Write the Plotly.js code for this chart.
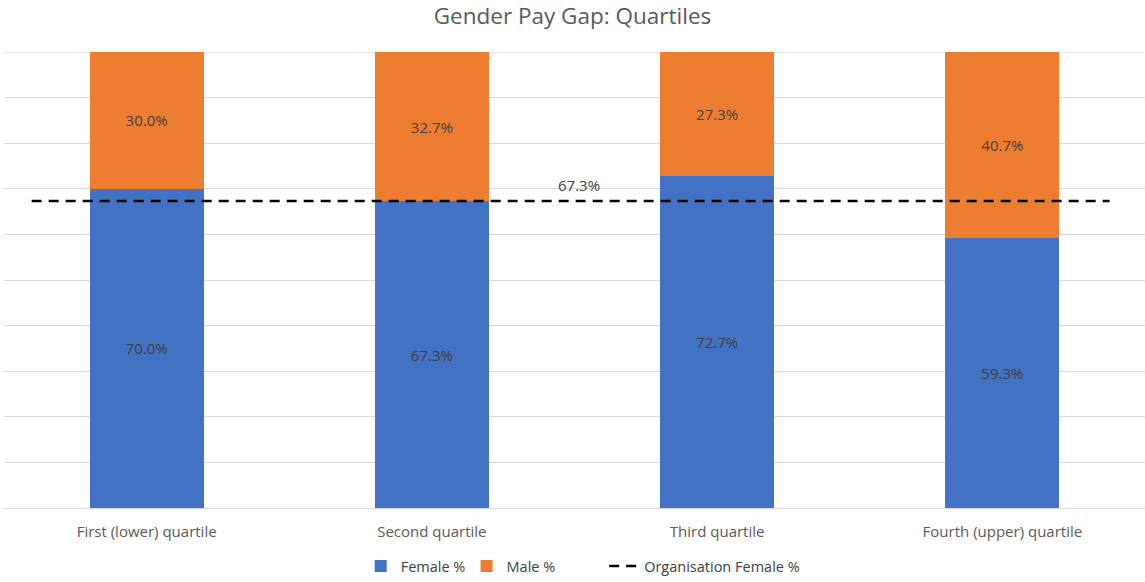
<!DOCTYPE html>
<html>
<head>
<meta charset="utf-8">
<script src="https://cdn.plot.ly/plotly-3.0.1.min.js"></script>
<style>html,body{margin:0;padding:0;background:#fff;}#chart{width:1145px;height:582px;}</style>
</head>
<body>
<div id="chart"></div>
<script>
const categories = ["First (lower) quartile", "Second quartile", "Third quartile", "Fourth (upper) quartile"];
const femalePct = [70.0, 67.3, 72.7, 59.3];
const malePct = [30.0, 32.7, 27.3, 40.7];
const orgFemalePct = 67.3;
const orgLineExtent = [-0.403, 3.376];
const orgLabelX = 1.517;

const pos = categories.map((c, i) => i);
const FONT = "'Open Sans', sans-serif";
const fmt = v => v.toFixed(1) + "%";

const traces = [
  {
    type: "bar", name: "Female %", x: pos, y: femalePct, legend: "legend",
    marker: {color: "#4472C4"}, width: 0.4,
    text: femalePct.map(fmt), textposition: "inside", insidetextanchor: "middle",
    textfont: {color: "#404040", size: 15, family: FONT}, hoverinfo: "skip"
  },
  {
    type: "bar", name: "Male %", x: pos, y: malePct, legend: "legend2",
    marker: {color: "#ED7D31"}, width: 0.4,
    text: malePct.map(fmt), textposition: "inside", insidetextanchor: "middle",
    textfont: {color: "#404040", size: 15, family: FONT}, hoverinfo: "skip"
  },
  {
    type: "scatter", mode: "lines", name: "Organisation Female %", legend: "legend3",
    x: orgLineExtent, y: orgLineExtent.map(() => orgFemalePct),
    line: {color: "#000000", width: 2.5, dash: "10px,7px"}, hoverinfo: "skip"
  }
];

const legendBase = {orientation: "h", xanchor: "left", y: -0.128, yanchor: "middle",
                    font: {size: 14.5, color: "#404040", family: FONT}, bgcolor: "rgba(0,0,0,0)"};

const layout = {
  width: 1145, height: 582,
  margin: {l: 4, r: 0, t: 52, b: 70},
  paper_bgcolor: "#ffffff", plot_bgcolor: "#ffffff",
  font: {family: FONT, color: "#595959", size: 15},
  barmode: "stack",
  title: {text: "Gender Pay Gap: Quartiles", x: 0.5, xanchor: "center", y: 1 - 16/582, yanchor: "middle",
          font: {size: 22.5, color: "#595959", family: FONT}},
  xaxis: {
    range: [-0.5, 3.5], tickvals: pos, ticktext: categories,
    showgrid: false, zeroline: false, showline: false,
    ticks: "outside", ticklen: 10, tickcolor: "rgba(0,0,0,0)",
    tickfont: {size: 15, color: "#595959", family: FONT}, fixedrange: true
  },
  yaxis: {
    range: [0, 100], dtick: 10, showticklabels: false,
    showgrid: true, gridcolor: "#d9d9d9", gridwidth: 1,
    zeroline: true, zerolinecolor: "#d9d9d9", zerolinewidth: 1, fixedrange: true
  },
  shapes: [{type: "line", xref: "paper", yref: "y", x0: 0, x1: 1, y0: 100, y1: 100,
            line: {color: "#d9d9d9", width: 1}, layer: "below"}],
  showlegend: true,
  legend: Object.assign({}, legendBase, {x: 0.3126}),
  legend2: Object.assign({}, legendBase, {x: 0.4054}),
  legend3: Object.assign({}, legendBase, {x: 0.526}),
  annotations: [{
    x: orgLabelX, y: orgFemalePct, xref: "x", yref: "y", text: fmt(orgFemalePct),
    showarrow: false, yshift: 16, font: {size: 15, color: "#404040", family: FONT}
  }]
};

Plotly.newPlot("chart", traces, layout, {displayModeBar: false, staticPlot: true});
</script>
</body>
</html>
